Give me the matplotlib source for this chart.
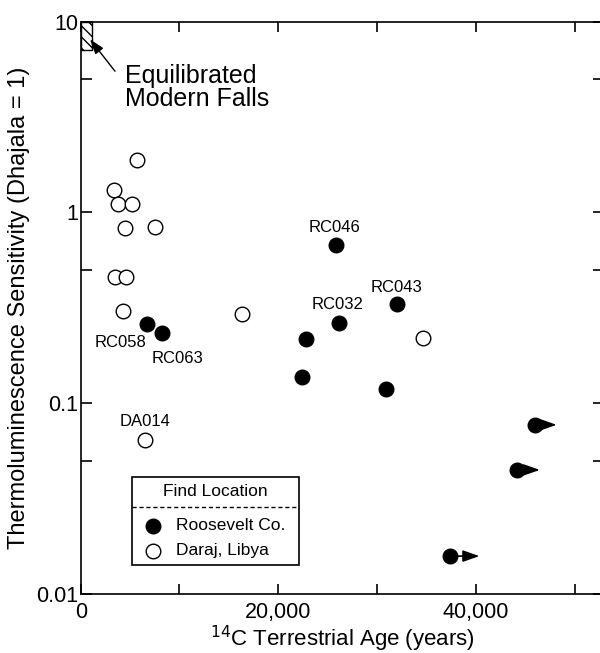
import matplotlib
matplotlib.use("Agg")
import matplotlib.pyplot as plt
from matplotlib.patches import Rectangle
from matplotlib.lines import Line2D
from matplotlib.ticker import FixedLocator, NullFormatter, FixedFormatter

plt.rcParams['font.family'] = ['Liberation Sans', 'DejaVu Sans']
plt.rcParams['hatch.linewidth'] = 1.0

# Daraj, Libya (open circles)
daraj_age = [5700, 3400, 3740, 5230, 4520, 7490, 3470, 4590, 4250, 16300, 6540, 34650]
daraj_tl = [1.88, 1.31, 1.11, 1.11, 0.83, 0.835, 0.458, 0.458, 0.304, 0.292, 0.0643, 0.219]

# Roosevelt Co. (filled circles)
roos_age = [6740, 8260, 22770, 22430, 25870, 26180, 30900, 31980]
roos_tl = [0.259, 0.232, 0.217, 0.137, 0.676, 0.2616, 0.1188, 0.329]

# Roosevelt Co. lower limits on age (arrows)
roos_min_age = [45980, 44130, 37410]
roos_min_tl = [0.0770, 0.0447, 0.0158]

# sample labels: name, age, TL
label_names = ["RC046", "RC032", "RC043", "RC058", "RC063", "DA014"]
label_age = [25870, 26180, 31980, 6740, 8260, 6540]
label_tl = [0.676, 0.2616, 0.329, 0.259, 0.232, 0.0643]
label_offsets = [(-2, 17), (-2, 19), (0, 17), (-27, -18), (15, -25), (0, 18)]

x_ticks = [0, 10000, 20000, 30000, 40000, 50000]
x_ticklabels = ["0", "", "20,000", "", "40,000", ""]
y_major = [0.01, 0.1, 1, 10]
y_major_labels = ["0.01", "0.1", "1", "10"]
y_minor = [0.05, 0.5, 5]

fig = plt.figure(figsize=(6.0, 6.53), dpi=100)
ax = fig.add_axes([80.7/600, 1-594/653, (604.3-80.7)/600, (594-21.5)/653])
ax.set_yscale('log')
ax.set_xlim(0, 53000)
ax.set_ylim(0.01, 10)

for s in ax.spines.values():
    s.set_linewidth(1.2)

ax.xaxis.set_major_locator(FixedLocator(x_ticks))
ax.xaxis.set_major_formatter(FixedFormatter(x_ticklabels))
ax.yaxis.set_major_locator(FixedLocator(y_major))
ax.yaxis.set_major_formatter(FixedFormatter(y_major_labels))
ax.yaxis.set_minor_locator(FixedLocator(y_minor))
ax.yaxis.set_minor_formatter(NullFormatter())
ax.xaxis.set_minor_locator(FixedLocator([]))
ax.tick_params(axis='both', which='both', direction='in', top=True, right=True,
               width=1.2, labelsize=15.5)
ax.tick_params(axis='x', which='major', length=7, pad=6)
ax.tick_params(axis='y', which='major', length=8, pad=2)
ax.tick_params(axis='y', which='minor', length=8)

ms = 10.5
ax.plot(daraj_age, daraj_tl, 'o', mfc='white', mec='black', mew=1.0, ms=ms, ls='none', zorder=3)
ax.plot(roos_age, roos_tl, 'o', mfc='black', mec='black', ms=ms, ls='none', zorder=3)
ax.plot(roos_min_age, roos_min_tl, 'o', mfc='black', mec='black', ms=ms, ls='none', zorder=3)
arrow_len = [2200, 2350, 2950]
for a, t, d in zip(roos_min_age, roos_min_tl, arrow_len):
    ax.annotate('', xy=(a + d, t), xytext=(a, t),
                arrowprops=dict(arrowstyle='-|>,head_length=1.0,head_width=0.35',
                                color='black', lw=1.2, shrinkA=0, shrinkB=0), zorder=2)

for name, a, t, off in zip(label_names, label_age, label_tl, label_offsets):
    ax.annotate(name, xy=(a, t), xytext=off, textcoords='offset pixels',
                ha='center', va='center', fontsize=12)

# hatched box for equilibrated modern falls
ax.add_patch(Rectangle((0, 7.1), 1100, 10 - 7.1, fill=False, hatch='\\\\\\',
                       edgecolor='black', lw=1.0))
ax.annotate('', xy=(940, 8.07), xytext=(3470, 5.49),
            arrowprops=dict(arrowstyle='-|>,head_length=0.9,head_width=0.3',
                            color='black', lw=1.0, shrinkA=0, shrinkB=0))
ax.text((125-80.7)/(604.3-80.7), (594-64)/(594-21.5), "Equilibrated\nModern Falls",
        transform=ax.transAxes, ha='left', va='top', fontsize=18, linespacing=0.95)

# legend
lx0, lx1 = (132-80.7)/523.6, (299-80.7)/523.6
ly0, ly1 = (594-565)/572.5, (594-477)/572.5
ax.add_patch(Rectangle((lx0, ly0), lx1-lx0, ly1-ly0, transform=ax.transAxes,
                       fill=False, edgecolor='black', lw=1.2, zorder=4))
ax.add_line(Line2D([lx0, lx1], [(594-507)/572.5]*2, transform=ax.transAxes,
                   color='black', lw=1.0, ls=(0, (3, 2)), zorder=4))
ax.text((lx0+lx1)/2, (594-492)/572.5, "Find Location", transform=ax.transAxes,
        ha='center', va='center', fontsize=12.5)
mx = (153-80.7)/523.6
tx = (176-80.7)/523.6
ax.plot([mx], [(594-526)/572.5], 'o', mfc='black', mec='black', ms=ms, transform=ax.transAxes)
ax.plot([mx], [(594-551)/572.5], 'o', mfc='white', mec='black', mew=1.0, ms=ms, transform=ax.transAxes)
ax.text(tx, (594-526)/572.5, "Roosevelt Co.", transform=ax.transAxes,
        ha='left', va='center', fontsize=12.5)
ax.text(tx, (594-551)/572.5, "Daraj, Libya", transform=ax.transAxes,
        ha='left', va='center', fontsize=12.5)

ax.set_xlabel("$^{14}$C Terrestrial Age (years)", fontsize=16, labelpad=0)
ax.set_ylabel("Thermoluminescence Sensitivity (Dhajala = 1)", fontsize=17, labelpad=4)

fig.savefig("out.png", dpi=100)
